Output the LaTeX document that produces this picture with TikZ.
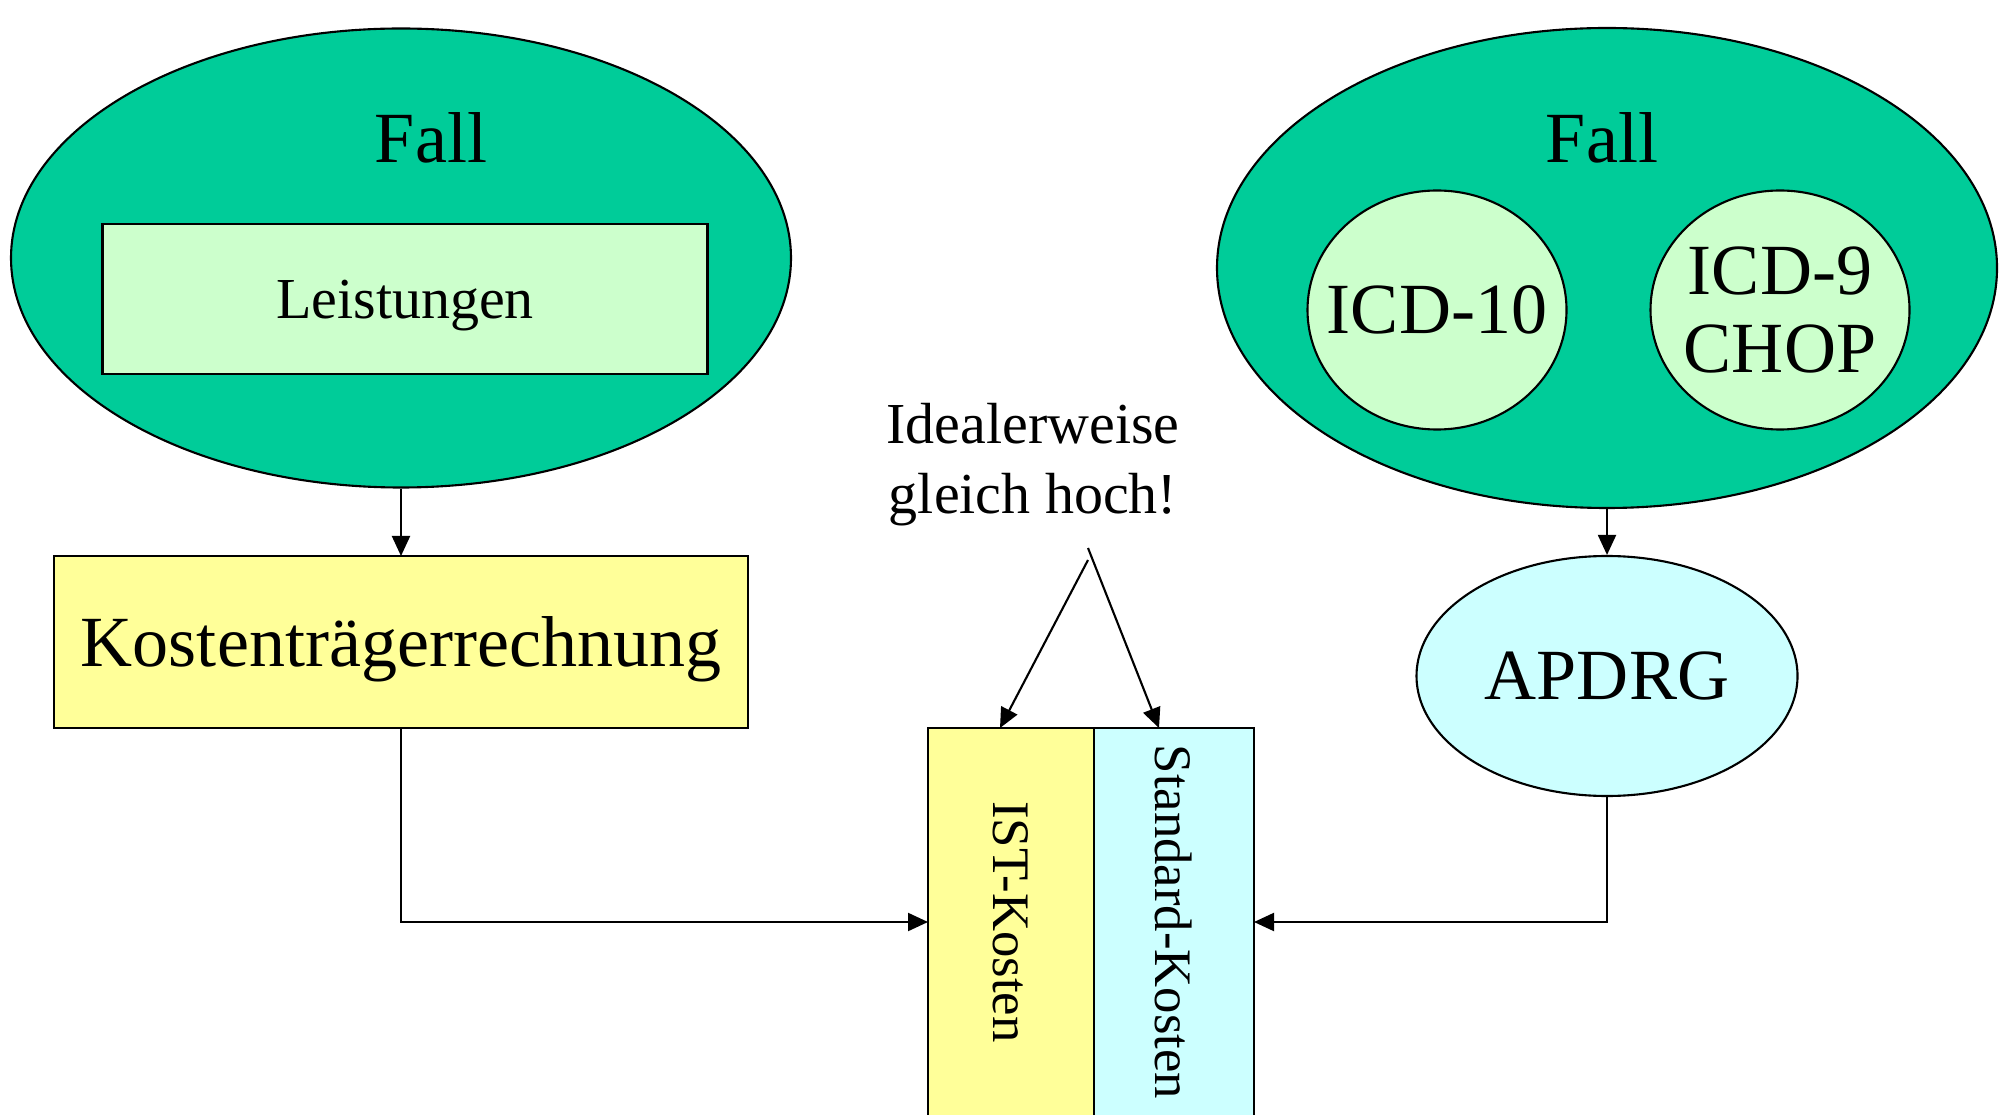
\documentclass[tikz,border=0pt]{standalone}
\usepackage{fontspec}
\setmainfont{Liberation Serif}
\usetikzlibrary{shapes.geometric, arrows.meta, calc}

\definecolor{fallgreen}{HTML}{00CC99}
\definecolor{lightgreen}{HTML}{CCFFCC}
\definecolor{lightyellow}{HTML}{FFFF99}
\definecolor{lightcyan}{HTML}{CCFFFF}

\begin{document}
\begin{tikzpicture}[
    fallstyle/.style={
        ellipse, draw, fill=fallgreen, inner sep=0pt,
        minimum width=7.8cm,
    },
    circlestyle/.style={
        ellipse, draw, fill=lightgreen, inner xsep=-0.3cm, inner ysep=0pt, align=center,
        minimum width=2.59cm, minimum height=2.39cm,
        font=\fontsize{20.5}{22}\selectfont
    },
    boxstyle/.style={draw, inner sep=0pt, outer sep=0pt},
    bigtext/.style={font=\fontsize{20.5}{22}\selectfont},
    arrowstyle/.style={-{Triangle[length=0.2cm, width=0.18cm]}},
    line width=0.6pt
]
\useasboundingbox (0,0) rectangle (20.10,-11.15);

% Fall left
\node (fallL) [fallstyle, minimum height=4.59cm] at (4.01,-2.58) {};
\node (fallLtext) [bigtext] at (4.31,-1.38) {Fall};
\node (leist) [boxstyle, fill=lightgreen, minimum width=6.05cm, minimum height=1.50cm,
    text depth=0pt, font=\fontsize{16.5}{18}\selectfont] at (4.05,-2.99) {Leistungen};

% Kostentraegerrechnung
\node (kost) [boxstyle, fill=lightyellow, minimum width=6.94cm, minimum height=1.72cm,
    text depth=0pt, bigtext] at (4.01,-6.42) {Kostenträgerrechnung};

% Fall right
\node (fallR) [fallstyle, minimum height=4.80cm] at (16.07,-2.68) {};
\node (fallRtext) [bigtext] at (16.02,-1.38) {Fall};
\node (icd10) [circlestyle] at (14.37,-3.10) {ICD-10};
\node (icd9) [circlestyle] at (17.80,-3.10) {ICD-9\\CHOP};

% APDRG
\node (apdrg) [ellipse, draw, fill=lightcyan, inner sep=0pt, minimum width=3.81cm,
    minimum height=2.40cm, bigtext] at (16.07,-6.76) {APDRG};

% Kosten
\node (ist) [boxstyle, fill=lightyellow, minimum width=1.66cm, minimum height=3.88cm,
    anchor=north west] at (9.28,-7.28) {};
\node (istext) [rotate=-90, font=\fontsize{15}{17}\selectfont] at (ist.center) {IST-Kosten};
\node (std) [boxstyle, fill=lightcyan, minimum width=1.60cm, minimum height=3.88cm,
    anchor=north west] at (ist.north east) {};
\node (stdtext) [rotate=-90, font=\fontsize{15}{17}\selectfont] at (std.center) {Standard-Kosten};

% Idealerweise
\node (ideal) [align=center, font=\fontsize{16.5}{19.9}\selectfont] at (10.33,-4.65)
    {Idealerweise\\gleich hoch!};
\coordinate (apexL) at (10.88,-5.60);
\coordinate (apexR) at (10.88,-5.48);

% Arrows
\draw[arrowstyle] (fallL.south) -- (kost.north);
\draw[arrowstyle] (fallR.south) -- (apdrg.north);
\draw[arrowstyle] (kost.south) |- (ist.west);
\draw[arrowstyle] (apdrg.south) |- (std.east);
\draw[arrowstyle] (apexL) -- ([xshift=-0.11cm]ist.north);
\draw[arrowstyle] (apexR) -- ([xshift=-0.15cm]std.north);

\end{tikzpicture}
\end{document}
